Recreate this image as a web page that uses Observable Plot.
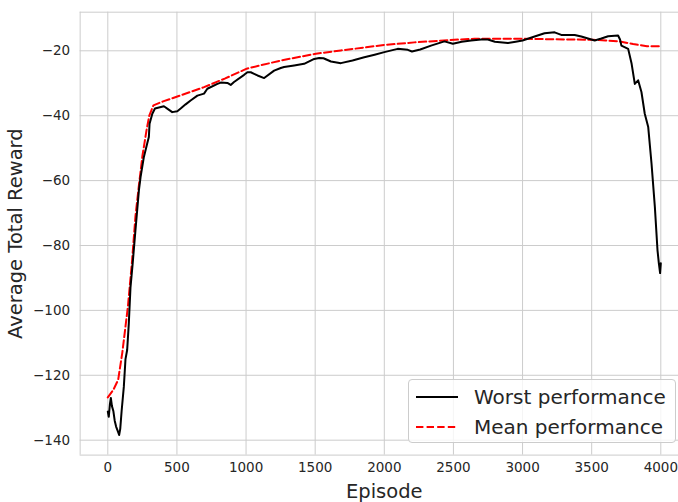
<!DOCTYPE html>
<html>
<head>
<meta charset="utf-8">
<script src="https://cdn.jsdelivr.net/npm/d3@7"></script>
<script src="https://cdn.jsdelivr.net/npm/@observablehq/plot@0.6"></script>
<style>
  html, body { margin: 0; padding: 0; background: #fff; }
  #wrap { position: relative; width: 678px; height: 502px; overflow: hidden; font-family: "DejaVu Sans", sans-serif; }
  #legend { position: absolute; left: 408px; top: 379px; width: 268px; height: 64px; border: 1px solid #cccccc; border-radius: 4px; background: rgba(255,255,255,0.8); box-sizing: border-box; }
  .row { position: absolute; left: 0; height: 30px; display: flex; align-items: center; }
  .row svg { margin-left: 7px; }
  .row span { margin-left: 16px; font-size: 20px; color: #262626; white-space: nowrap; }
</style>
</head>
<body>
<div id="wrap"></div>
<script>
// Worst performance (episode, reward)
const worstEpisode = [0,7,15,22,30,40,50,60,75,82,90,100,116,128,140,152,164,180,200,225,237,261,285,297,302,322,341,370,406,430,466,503,527,563,599,648,696,720,793,817,865,889,913,986,1010,1034,1083,1131,1203,1251,1275,1348,1420,1493,1529,1560,1614,1686,1770,1855,1930,2000,2097,2170,2200,2260,2338,2435,2496,2560,2628,2700,2749,2800,2894,2950,3000,3087,3159,3232,3280,3377,3425,3522,3570,3619,3691,3705,3715,3764,3789,3812,3836,3860,3884,3909,3933,3957,3976,3986,3995,4000];
const worstReward = [-131.2,-132.8,-129,-127,-129.5,-131,-134,-135.8,-137.5,-138.4,-136.5,-131,-123.5,-115,-112.2,-104,-93,-85.5,-75.3,-63,-58.9,-52.7,-48.6,-46.6,-42.5,-39.4,-37.8,-37.5,-37.1,-37.8,-38.9,-38.6,-37.8,-36.5,-35.3,-33.8,-33.2,-31.7,-30.2,-29.8,-29.9,-30.5,-29.6,-27.4,-26.6,-26.6,-27.6,-28.4,-26.1,-25.3,-25.0,-24.5,-24.0,-22.5,-22.2,-22.3,-23.3,-23.8,-23.0,-22.0,-21.2,-20.4,-19.4,-19.7,-20.2,-19.6,-18.4,-17.1,-17.8,-17.2,-16.8,-16.5,-16.5,-17.2,-17.6,-17.2,-16.8,-15.6,-14.6,-14.3,-15.1,-15.1,-15.6,-16.8,-16.2,-15.5,-15.3,-16.5,-18.4,-19.4,-24,-30.2,-29.1,-32.7,-39.4,-43.5,-54.8,-68.1,-81.4,-85.5,-88.5,-85.5];

// Mean performance (episode, reward)
const meanEpisode = [0,40,75,105,145,175,200,225,250,280,300,330,400,550,696,850,1005,1251,1505,1686,2000,2217,2507,2652,3000,3510,3600,3700,3800,3900,4000];
const meanReward = [-126.8,-124.5,-121.4,-113,-99,-85,-71,-61.5,-52.5,-44.5,-40,-36.8,-35.6,-33.4,-31.2,-28.5,-25.5,-23,-20.9,-19.9,-18.2,-17.4,-16.6,-16.3,-16.3,-16.6,-16.8,-17.1,-17.9,-18.6,-18.6];

const xTicks = [0,500,1000,1500,2000,2500,3000,3500,4000];
const yTicks = [-140,-120,-100,-80,-60,-40,-20];
const seriesNames = ["Worst performance", "Mean performance"];
const xLabel = "Episode";
const yLabel = "Average Total Reward";

const worst = worstEpisode.map((e, i) => ({episode: e, reward: worstReward[i]}));
const mean = meanEpisode.map((e, i) => ({episode: e, reward: meanReward[i]}));

const xDomain = [-200, 4200];
const yDomain = [-144.6, -8.1];
const grid = "#cccccc";
const ink = "#262626";

const chart = Plot.plot({
  width: 678,
  height: 502,
  marginLeft: 79.65,
  marginRight: 0,
  marginTop: 11.7,
  marginBottom: 47.4,
  style: {fontFamily: "DejaVu Sans, sans-serif", background: "white", color: ink},
  x: {domain: xDomain, range: [79.65, 687.95]},
  y: {domain: yDomain},
  marks: [
    Plot.gridX(xTicks, {stroke: grid, strokeOpacity: 1, strokeWidth: 1}),
    Plot.gridY(yTicks, {stroke: grid, strokeOpacity: 1, strokeWidth: 1}),
    Plot.ruleX([xDomain[0]], {stroke: grid, strokeWidth: 1}),
    Plot.ruleY(yDomain, {stroke: grid, strokeWidth: 1}),
    Plot.axisX(xTicks, {tickSize: 0, tickPadding: 7, fontSize: 13.5, label: null, fill: ink, tickFormat: d => String(d)}),
    Plot.axisY(yTicks, {tickSize: 0, tickPadding: 10, fontSize: 13.5, label: null, fill: ink, tickFormat: d => d < 0 ? "\u2212" + Math.abs(d) : String(d)}),
    Plot.line(mean, {x: "episode", y: "reward", stroke: "#ff0000", strokeWidth: 2, strokeDasharray: "7.4,3.2"}),
    Plot.line(worst, {x: "episode", y: "reward", stroke: "#000000", strokeWidth: 2, strokeLinejoin: "round"}),
    Plot.text([xLabel], {x: d3.mean(xDomain), frameAnchor: "bottom", dy: 37, text: d => d, fontSize: 19.5, fill: ink, lineAnchor: "middle", textAnchor: "middle"}),
    Plot.text([yLabel], {y: d3.mean(yDomain), frameAnchor: "left", dx: -64, rotate: -90, text: d => d, fontSize: 19.5, fill: ink, lineAnchor: "middle", textAnchor: "middle"})
  ]
});

const wrap = document.getElementById("wrap");
wrap.appendChild(chart);

const legend = document.createElement("div");
legend.id = "legend";
const styles = [{stroke: "#000", dash: null}, {stroke: "#ff0000", dash: "7.4,3.2"}];
seriesNames.forEach((name, i) => {
  const row = document.createElement("div");
  row.className = "row";
  row.style.top = (2 + i * 30) + "px";
  const dashAttr = styles[i].dash ? ` stroke-dasharray="${styles[i].dash}"` : "";
  row.innerHTML = `<svg width="42" height="10"><line x1="0" y1="5" x2="42" y2="5" stroke="${styles[i].stroke}" stroke-width="2"${dashAttr}/></svg><span>${name}</span>`;
  legend.appendChild(row);
});
wrap.appendChild(legend);
</script>
</body>
</html>
